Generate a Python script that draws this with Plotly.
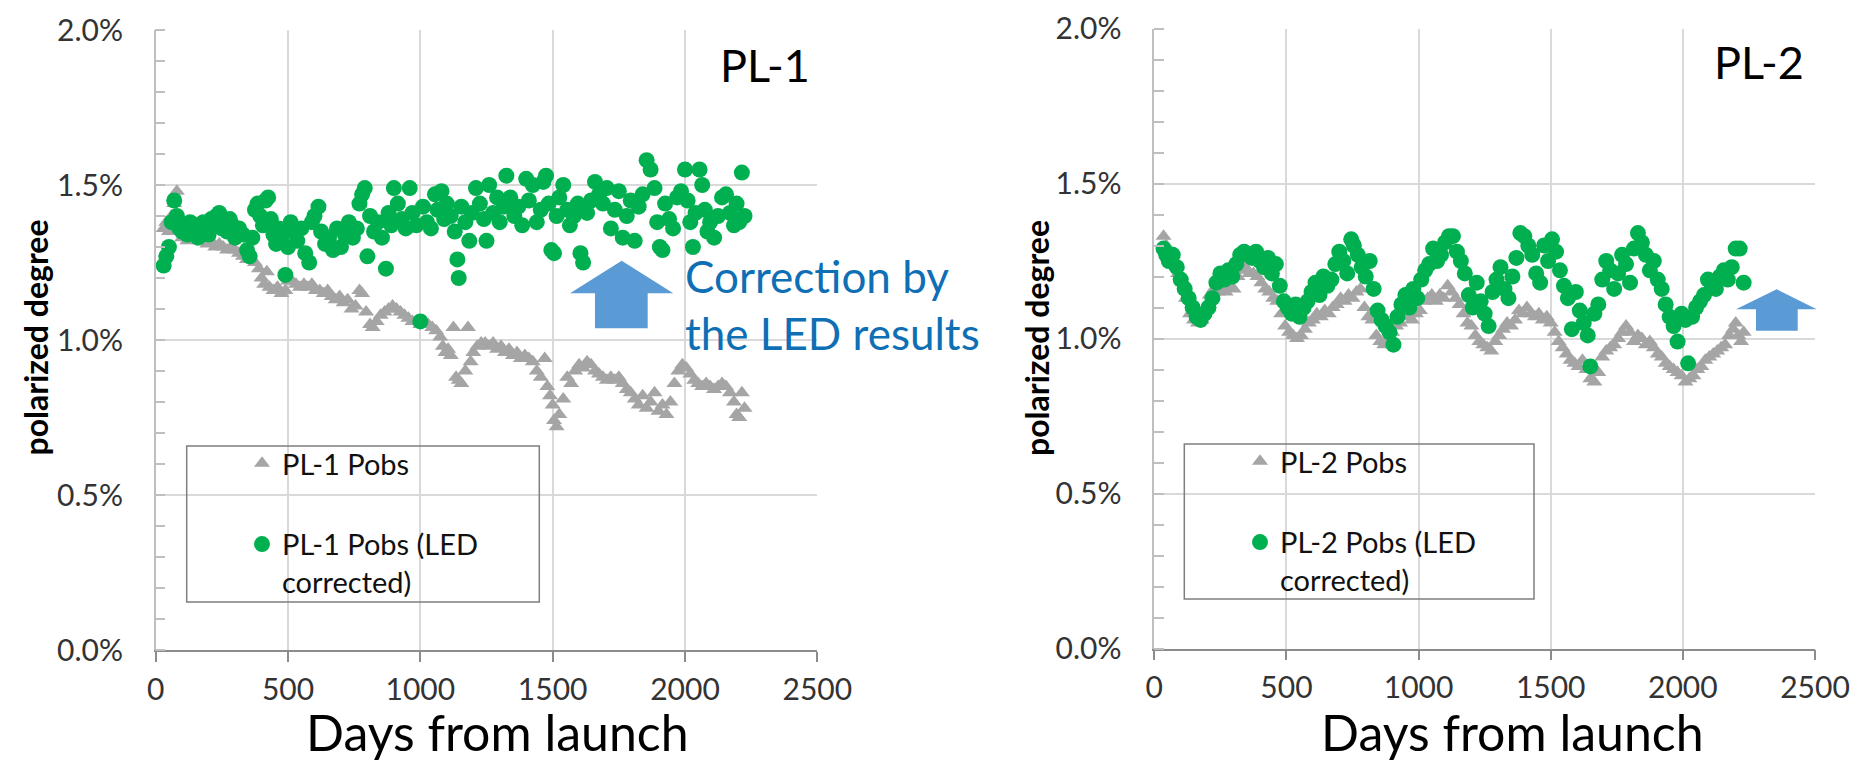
import plotly.graph_objects as go

W, H = 1855, 760

# ---------------- data (days from launch, polarized degree in %) ----------------
pl1_obs_days = [30, 40, 50, 60, 70, 80, 90, 100, 110, 120, 135, 150, 165, 180, 195, 210, 225, 240, 255, 270,
                285, 300, 315, 330, 345, 360, 375, 390, 400, 410, 420, 430, 445, 460, 475, 490, 500, 515, 530, 545,
                560, 575, 590, 605, 620, 635, 650, 665, 680, 695, 710, 725, 740, 755, 770, 780, 795, 810, 820, 835,
                850, 865, 880, 895, 910, 925, 940, 955, 970, 985, 1000, 1015, 1030, 1045, 1060, 1075, 1085, 1095,
                1105, 1115, 1125, 1135, 1145, 1155, 1170, 1180, 1190, 1200, 1215, 1230, 1245, 1260, 1275, 1290,
                1305, 1320, 1335, 1350, 1365, 1380, 1395, 1410, 1425, 1440, 1455, 1470, 1480, 1490, 1500, 1505,
                1515, 1525, 1540, 1555, 1570, 1585, 1600, 1615, 1630, 1645, 1660, 1675, 1690, 1705, 1720, 1735,
                1750, 1765, 1780, 1795, 1810, 1825, 1840, 1855, 1870, 1885, 1900, 1915, 1930, 1945, 1960, 1975,
                1990, 2005, 2020, 2035, 2050, 2065, 2080, 2095, 2110, 2125, 2140, 2155, 2170, 2185, 2195, 2205,
                2215, 2225]
pl1_obs_vals = [1.36, 1.38, 1.35, 1.40, 1.44, 1.48, 1.36, 1.33, 1.34, 1.32, 1.33, 1.34, 1.32, 1.33, 1.31, 1.32,
                1.30, 1.31, 1.30, 1.29, 1.30, 1.29, 1.28, 1.27, 1.26, 1.26, 1.25, 1.23, 1.20, 1.18, 1.22, 1.17,
                1.16, 1.17, 1.15, 1.16, 1.19, 1.19, 1.18, 1.17, 1.18, 1.17, 1.18, 1.16, 1.16, 1.15, 1.16, 1.14,
                1.13, 1.14, 1.12, 1.13, 1.10, 1.11, 1.16, 1.15, 1.09, 1.05, 1.04, 1.06, 1.08, 1.09, 1.10, 1.11,
                1.10, 1.09, 1.08, 1.07, 1.06, 1.06, 1.05, 1.06, 1.05, 1.04, 1.03, 1.01, 0.98, 0.96, 0.97, 0.95,
                1.04, 0.88, 0.87, 0.86, 0.90, 1.04, 0.93, 0.96, 0.98, 0.99, 0.99, 0.98, 0.99, 0.97, 0.98, 0.96,
                0.97, 0.95, 0.96, 0.94, 0.95, 0.94, 0.93, 0.90, 0.88, 0.94, 0.85, 0.82, 0.79, 0.74, 0.72, 0.76,
                0.81, 0.88, 0.86, 0.90, 0.92, 0.91, 0.93, 0.92, 0.90, 0.89, 0.88, 0.87, 0.88, 0.87, 0.88, 0.86,
                0.84, 0.83, 0.81, 0.79, 0.82, 0.78, 0.80, 0.83, 0.77, 0.79, 0.76, 0.80, 0.86, 0.90, 0.92, 0.91,
                0.89, 0.87, 0.86, 0.85, 0.86, 0.85, 0.84, 0.85, 0.86, 0.85, 0.83, 0.80, 0.76, 0.75, 0.83, 0.78]

pl1_cor_days = [30, 40, 50, 60, 70, 80, 90, 100, 110, 120, 130, 140, 150, 160, 170, 180, 190, 200, 210, 220,
                230, 240, 250, 260, 270, 280, 290, 300, 315, 330, 345, 355, 365, 375, 385, 395, 405, 415, 425,
                435, 445, 455, 465, 475, 490, 500, 510, 520, 535, 550, 565, 580, 590, 600, 615, 625, 640, 655,
                670, 685, 700, 715, 730, 745, 760, 770, 780, 790, 800, 810, 825, 840, 855, 870, 880, 890, 900,
                915, 930, 945, 960, 970, 985, 1000, 1010, 1025, 1040, 1055, 1065, 1080, 1090, 1100, 1115, 1130,
                1140, 1145, 1155, 1170, 1185, 1195, 1210, 1225, 1240, 1250, 1260, 1275, 1290, 1300, 1315, 1325,
                1340, 1355, 1370, 1385, 1400, 1410, 1425, 1440, 1455, 1465, 1475, 1485, 1495, 1505, 1515, 1525,
                1540, 1555, 1565, 1580, 1595, 1605, 1615, 1630, 1645, 1660, 1675, 1690, 1705, 1720, 1735, 1750,
                1765, 1780, 1795, 1810, 1825, 1840, 1855, 1870, 1885, 1895, 1905, 1915, 1925, 1940, 1955, 1970,
                1985, 2000, 2010, 2020, 2030, 2040, 2055, 2065, 2075, 2085, 2095, 2110, 2125, 2140, 2155, 2170,
                2185, 2195, 2205, 2215, 2225]
pl1_cor_vals = [1.24, 1.27, 1.30, 1.38, 1.45, 1.40, 1.36, 1.35, 1.37, 1.34, 1.38, 1.36, 1.37, 1.33, 1.35, 1.38,
                1.36, 1.34, 1.39, 1.37, 1.40, 1.41, 1.36, 1.38, 1.35, 1.39, 1.37, 1.33, 1.36, 1.34, 1.29, 1.27,
                1.33, 1.42, 1.44, 1.40, 1.37, 1.45, 1.46, 1.39, 1.34, 1.31, 1.36, 1.33, 1.21, 1.30, 1.38, 1.35,
                1.32, 1.36, 1.28, 1.25, 1.38, 1.40, 1.43, 1.35, 1.31, 1.33, 1.29, 1.36, 1.30, 1.34, 1.38, 1.33,
                1.36, 1.44, 1.47, 1.49, 1.27, 1.40, 1.35, 1.38, 1.33, 1.23, 1.41, 1.37, 1.49, 1.44, 1.39, 1.36,
                1.49, 1.41, 1.37, 1.06, 1.43, 1.38, 1.36, 1.47, 1.42, 1.48, 1.39, 1.44, 1.40, 1.35, 1.26, 1.20,
                1.43, 1.38, 1.32, 1.41, 1.49, 1.44, 1.39, 1.32, 1.50, 1.41, 1.46, 1.38, 1.43, 1.53, 1.46, 1.40,
                1.43, 1.37, 1.52, 1.45, 1.50, 1.38, 1.42, 1.51, 1.53, 1.44, 1.29, 1.28, 1.40, 1.46, 1.50, 1.42,
                1.37, 1.40, 1.44, 1.28, 1.25, 1.41, 1.45, 1.51, 1.47, 1.44, 1.49, 1.36, 1.42, 1.48, 1.33, 1.40,
                1.45, 1.32, 1.43, 1.47, 1.58, 1.55, 1.49, 1.38, 1.30, 1.29, 1.44, 1.39, 1.36, 1.46, 1.48, 1.55,
                1.45, 1.38, 1.30, 1.41, 1.55, 1.50, 1.42, 1.35, 1.38, 1.33, 1.40, 1.46, 1.47, 1.41, 1.37, 1.44,
                1.38, 1.54, 1.40]

pl2_obs_days = [35, 45, 60, 75, 90, 105, 120, 135, 150, 165, 180, 195, 210, 225, 240, 255, 270, 285, 300, 315,
                330, 345, 360, 375, 390, 405, 420, 435, 450, 465, 480, 495, 510, 525, 540, 555, 570, 585, 600,
                615, 630, 645, 660, 675, 690, 705, 720, 735, 750, 765, 780, 795, 810, 825, 840, 855, 870, 885,
                900, 915, 930, 945, 960, 975, 990, 1005, 1020, 1035, 1050, 1065, 1080, 1095, 1110, 1125, 1140,
                1155, 1170, 1185, 1200, 1215, 1230, 1245, 1260, 1275, 1290, 1305, 1320, 1335, 1350, 1365, 1380,
                1395, 1410, 1425, 1440, 1455, 1470, 1485, 1500, 1515, 1530, 1545, 1560, 1575, 1590, 1605, 1620,
                1635, 1650, 1665, 1680, 1695, 1710, 1725, 1740, 1755, 1770, 1785, 1800, 1815, 1830, 1845, 1860,
                1875, 1890, 1905, 1920, 1935, 1950, 1965, 1980, 1995, 2010, 2025, 2040, 2055, 2070, 2085, 2100,
                2115, 2130, 2145, 2160, 2175, 2190, 2200, 2210, 2220, 2230]
pl2_obs_vals = [1.33, 1.30, 1.27, 1.24, 1.21, 1.19, 1.13, 1.08, 1.06, 1.05, 1.06, 1.09, 1.14, 1.16, 1.15, 1.16,
                1.15, 1.17, 1.16, 1.20, 1.22, 1.23, 1.21, 1.21, 1.20, 1.18, 1.16, 1.15, 1.13, 1.12, 1.08, 1.04,
                1.02, 1.01, 1.00, 1.01, 1.03, 1.05, 1.06, 1.08, 1.07, 1.09, 1.08, 1.10, 1.11, 1.13, 1.12, 1.14,
                1.13, 1.15, 1.16, 1.10, 1.07, 1.06, 1.01, 0.99, 0.98, 1.00, 1.02, 1.04, 1.05, 1.07, 1.08, 1.06,
                1.08, 1.09, 1.12, 1.13, 1.14, 1.12, 1.14, 1.13, 1.17, 1.15, 1.13, 1.11, 1.08, 1.05, 1.04, 1.01,
                0.99, 0.98, 0.97, 0.96, 0.99, 1.01, 1.03, 1.05, 1.04, 1.06, 1.09, 1.08, 1.10, 1.08, 1.07, 1.08,
                1.06, 1.07, 1.05, 1.02, 0.99, 0.97, 0.95, 0.93, 0.92, 0.91, 0.93, 0.90, 0.87, 0.86, 0.89, 0.94,
                0.96, 0.97, 0.98, 1.00, 1.02, 1.04, 1.02, 0.99, 1.01, 1.00, 0.98, 0.99, 0.97, 0.95, 0.94, 0.92,
                0.91, 0.90, 0.89, 0.88, 0.86, 0.87, 0.88, 0.90, 0.91, 0.93, 0.94, 0.95, 0.96, 0.97, 0.98, 1.01,
                1.03, 1.05, 1.01, 0.99, 1.02]

pl2_cor_days = [35, 45, 55, 70, 85, 100, 115, 130, 145, 160, 175, 190, 205, 220, 235, 250, 265, 280, 295, 310,
                325, 340, 355, 370, 385, 400, 415, 430, 445, 460, 475, 490, 505, 520, 535, 550, 565, 580, 595,
                610, 625, 640, 655, 670, 685, 700, 715, 730, 745, 755, 770, 785, 800, 815, 830, 845, 860, 875,
                890, 905, 920, 935, 950, 965, 980, 995, 1010, 1025, 1040, 1055, 1070, 1085, 1100, 1115, 1130,
                1145, 1160, 1175, 1190, 1205, 1220, 1235, 1250, 1265, 1280, 1295, 1310, 1325, 1340, 1355, 1370,
                1385, 1400, 1415, 1430, 1445, 1460, 1475, 1490, 1505, 1520, 1535, 1550, 1565, 1580, 1595, 1610,
                1625, 1640, 1650, 1665, 1680, 1695, 1710, 1725, 1740, 1755, 1770, 1785, 1800, 1815, 1830, 1845,
                1860, 1875, 1890, 1905, 1920, 1935, 1950, 1965, 1980, 1995, 2010, 2020, 2035, 2050, 2065, 2080,
                2095, 2110, 2125, 2140, 2155, 2170, 2185, 2200, 2215, 2230]
pl2_cor_vals = [1.29, 1.27, 1.25, 1.27, 1.23, 1.19, 1.16, 1.13, 1.10, 1.07, 1.06, 1.08, 1.10, 1.13, 1.18, 1.21,
                1.19, 1.22, 1.20, 1.24, 1.27, 1.28, 1.27, 1.26, 1.28, 1.25, 1.23, 1.26, 1.21, 1.24, 1.17, 1.12,
                1.10, 1.08, 1.11, 1.07, 1.10, 1.12, 1.15, 1.18, 1.14, 1.20, 1.17, 1.19, 1.24, 1.28, 1.25, 1.21,
                1.32, 1.30, 1.27, 1.23, 1.20, 1.25, 1.16, 1.09, 1.06, 1.04, 1.02, 0.98, 1.07, 1.11, 1.14, 1.10,
                1.16, 1.13, 1.19, 1.22, 1.24, 1.29, 1.25, 1.27, 1.31, 1.33, 1.33, 1.28, 1.25, 1.21, 1.14, 1.10,
                1.18, 1.12, 1.08, 1.04, 1.15, 1.19, 1.23, 1.16, 1.13, 1.20, 1.26, 1.34, 1.33, 1.30, 1.27, 1.21,
                1.18, 1.30, 1.25, 1.32, 1.28, 1.22, 1.17, 1.13, 1.03, 1.15, 1.09, 1.05, 1.01, 0.91, 1.08, 1.11,
                1.19, 1.25, 1.22, 1.16, 1.21, 1.27, 1.24, 1.18, 1.29, 1.34, 1.31, 1.27, 1.22, 1.25, 1.19, 1.16,
                1.11, 1.07, 1.04, 0.99, 1.08, 1.06, 0.92, 1.07, 1.10, 1.12, 1.14, 1.19, 1.17, 1.16, 1.20, 1.22,
                1.19, 1.23, 1.29, 1.29, 1.18]

x_tickvals = [0, 500, 1000, 1500, 2000, 2500]
y_tickvals = [0.0, 0.5, 1.0, 1.5, 2.0]
y_ticktext = ["0.0%", "0.5%", "1.0%", "1.5%", "2.0%"]

GRAY = "#A5A5A5"
GREEN = "#00B050"
ARROW = "#5B9BD5"
TEXTBLUE = "#0F6FB5"
FONT = "Lato"

fig = go.Figure()


def px_x(p):
    return p / W


def px_y(p):
    return 1 - p / H


# panel geometry (pixels)
panels = [
    dict(x0=155.7, x1=817.3, y0=650.0, y1=30.0, name="PL-1", xa="x", ya="y", legend="legend"),
    dict(x0=1154.3, x1=1815.0, y0=648.5, y1=28.5, name="PL-2", xa="x2", ya="y2", legend="legend2"),
]

series = [
    (pl1_obs_days, pl1_obs_vals, pl1_cor_days, pl1_cor_vals),
    (pl2_obs_days, pl2_obs_vals, pl2_cor_days, pl2_cor_vals),
]

for p, (od, ov, cd, cv) in zip(panels, series):
    fig.add_trace(go.Scatter(
        x=od, y=ov, mode="markers", name=f"{p['name']} Pobs",
        marker=dict(symbol="triangle-up", size=14, color=GRAY, line=dict(width=0)),
        xaxis=p["xa"], yaxis=p["ya"], legend=p["legend"], legendgroup=p["name"] + "a"))
    fig.add_trace(go.Scatter(
        x=cd, y=cv, mode="markers", name=f"{p['name']} Pobs (LED<br>corrected)",
        marker=dict(symbol="circle", size=16, color=GREEN, line=dict(width=0)),
        xaxis=p["xa"], yaxis=p["ya"], legend=p["legend"], legendgroup=p["name"] + "b"))

axis_common_x = dict(
    range=[0, 2500], tickvals=x_tickvals, showgrid=True, gridcolor="#D9D9D9", gridwidth=1.5,
    showline=True, linecolor="#8C8C8C", linewidth=1.5, ticks="outside", ticklen=10,
    tickcolor="#8C8C8C", tickwidth=1.5, zeroline=False, automargin=False,
    tickfont=dict(family=FONT, size=30, color="#333333"), ticklabelstandoff=2,
)
axis_common_y = dict(
    range=[0, 2.0], tickvals=y_tickvals, ticktext=y_ticktext, showgrid=True,
    gridcolor="#D9D9D9", gridwidth=1.5, showline=True, linecolor="#BFBFBF", linewidth=1.5,
    ticks="", zeroline=False, automargin=False,
    tickfont=dict(family=FONT, size=30, color="#333333"), ticklabelstandoff=25,
    minor=dict(dtick=0.1, ticks="inside", ticklen=10, tickcolor="#BFBFBF", tickwidth=1.5, showgrid=False),
)

fig.update_layout(
    xaxis=dict(domain=[px_x(panels[0]["x0"]), px_x(panels[0]["x1"])], anchor="y", **axis_common_x),
    yaxis=dict(domain=[px_y(panels[0]["y0"]), px_y(panels[0]["y1"])], anchor="x", **axis_common_y),
    xaxis2=dict(domain=[px_x(panels[1]["x0"]), px_x(panels[1]["x1"])], anchor="y2", **axis_common_x),
    yaxis2=dict(domain=[px_y(panels[1]["y0"]), px_y(panels[1]["y1"])], anchor="x2", **axis_common_y),
)

legend_style = dict(
    xanchor="left", yanchor="top", bgcolor="rgba(0,0,0,0)", borderwidth=0,
    font=dict(family=FONT, size=29, color="#111111"), tracegroupgap=40, valign="top",
    itemclick=False, itemdoubleclick=False,
)
fig.update_layout(
    legend=dict(x=px_x(242), y=px_y(438), **legend_style),
    legend2=dict(x=px_x(1240), y=px_y(436), **legend_style),
)

shapes = []
# legend frames
for (lx0, ly0, lx1, ly1) in [(186.7, 446, 539.3, 602), (1184.3, 444, 1534, 599)]:
    shapes.append(dict(type="rect", xref="paper", yref="paper",
                       x0=px_x(lx0), x1=px_x(lx1), y0=px_y(ly1), y1=px_y(ly0),
                       line=dict(color="#7F7F7F", width=1.5), fillcolor="rgba(0,0,0,0)", layer="above"))


def arrow_path(tipx, tipy, wl, wr, wy, sl, sr, by):
    pts = [(tipx, tipy), (wr, wy), (sr, wy), (sr, by), (sl, by), (sl, wy), (wl, wy)]
    return "M " + " L ".join(f"{px_x(a):.5f},{px_y(b):.5f}" for a, b in pts) + " Z"


shapes.append(dict(type="path", xref="paper", yref="paper",
                   path=arrow_path(621.7, 260.7, 570, 673.3, 293.3, 595, 647.7, 328.3),
                   fillcolor=ARROW, line=dict(width=0), layer="above"))
shapes.append(dict(type="path", xref="paper", yref="paper",
                   path=arrow_path(1776.7, 289.3, 1736, 1816.7, 309.3, 1756, 1797.7, 330.7),
                   fillcolor=ARROW, line=dict(width=0), layer="above"))
fig.update_layout(shapes=shapes)

annotations = [
    dict(text="PL-1", x=px_x(812), y=px_y(65), xref="paper", yref="paper", xanchor="right", yanchor="middle",
         showarrow=False, font=dict(family=FONT, size=45, color="#000000")),
    dict(text="PL-2", x=px_x(1806), y=px_y(62), xref="paper", yref="paper", xanchor="right", yanchor="middle",
         showarrow=False, font=dict(family=FONT, size=45, color="#000000")),
    dict(text="Correction by<br>the LED results", x=px_x(683), y=px_y(304), xref="paper", yref="paper",
         xanchor="left", yanchor="middle", align="left", showarrow=False,
         font=dict(family=FONT, size=44, color=TEXTBLUE)),
    dict(text="<b>polarized degree</b>", x=px_x(35.5), y=px_y(338), xref="paper", yref="paper",
         xanchor="center", yanchor="middle", textangle=-90, showarrow=False,
         font=dict(family=FONT, size=32, color="#000000")),
    dict(text="<b>polarized degree</b>", x=px_x(1037), y=px_y(338), xref="paper", yref="paper",
         xanchor="center", yanchor="middle", textangle=-90, showarrow=False,
         font=dict(family=FONT, size=32, color="#000000")),
    dict(text="Days from launch", x=px_x(497), y=px_y(732), xref="paper", yref="paper",
         xanchor="center", yanchor="middle", showarrow=False,
         font=dict(family=FONT, size=50, color="#000000")),
    dict(text="Days from launch", x=px_x(1512), y=px_y(732), xref="paper", yref="paper",
         xanchor="center", yanchor="middle", showarrow=False,
         font=dict(family=FONT, size=50, color="#000000")),
]
fig.update_layout(annotations=annotations)

fig.update_layout(
    width=W, height=H, margin=dict(l=0, r=0, t=0, b=0),
    paper_bgcolor="white", plot_bgcolor="white",
    font=dict(family=FONT), showlegend=True,
)

fig.write_html("out.html", config={"displayModeBar": False},
               post_script="document.body.style.margin='0px';document.body.style.overflow='hidden';")
